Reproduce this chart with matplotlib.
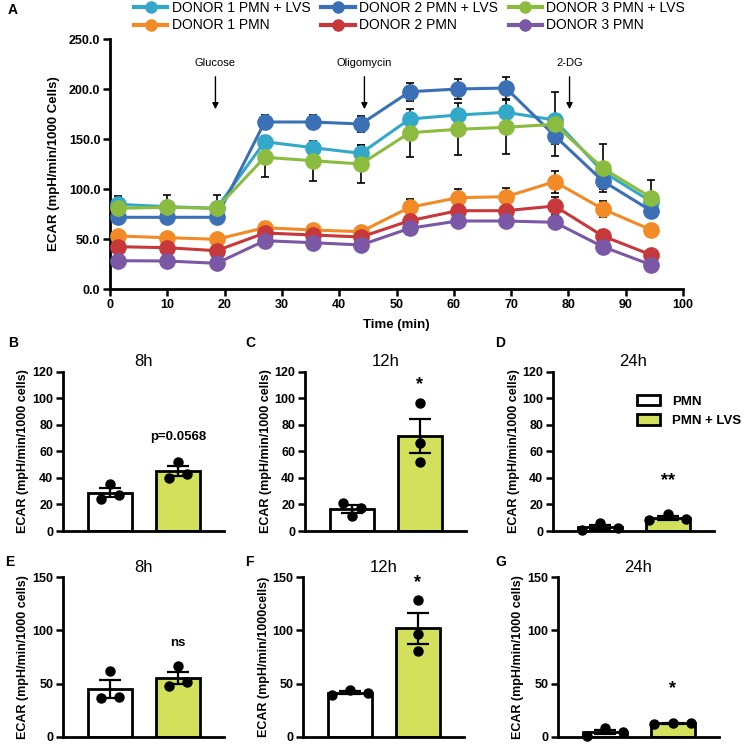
import numpy as np
import matplotlib.pyplot as plt
from matplotlib.ticker import FormatStrFormatter
from matplotlib.patches import Patch
from matplotlib.lines import Line2D

plt.rcParams['font.family'] = ['Liberation Sans', 'DejaVu Sans']
plt.rcParams['font.weight'] = 'bold'
plt.rcParams['axes.labelweight'] = 'bold'

# panel A: ECAR time course
# =========================
time = [1.4, 10, 18.6, 27, 35.4, 43.8, 52.3, 60.7, 69.1, 77.6, 86, 94.5]

d1_lvs = [84.7, 82.3, 80.7, 147.3, 141.3, 135.7, 170, 174, 176.7, 169, 117.3, 87.3]
d2_lvs = [71.7, 71.7, 71.7, 167, 167, 165, 197.3, 200, 201, 153.3, 108, 78]
d3_lvs = [80.7, 81.7, 80.7, 131.7, 128.3, 125, 156.3, 159.7, 161.7, 164.7, 120.7, 91.3]
d1_pmn = [53, 51.3, 49.7, 61.3, 59, 57.3, 81.7, 91.3, 92.3, 107.3, 80, 59]
d2_pmn = [42.3, 41.3, 38.3, 56, 54, 52, 68.3, 78.3, 78.3, 83, 53, 34]
d3_pmn = [28.3, 28, 25.7, 48.3, 46.3, 44, 60.7, 68, 68, 66.7, 42.3, 24]

d1_lvs_err = [8, 12, 13, 6, 6, 8, 5, 5, 6, 5, 6, 5]
d2_lvs_err = [4, 3, 3, 7, 7, 8, 9, 10, 11, 8, 8, 5]
d3_lvs_err = [5, 4, 5, 20, 20, 19, 24, 26, 27, 32, 24, 18]
d1_pmn_err = [4, 4, 4, 6, 5, 5, 8, 9, 9, 11, 8, 4]
d2_pmn_err = [3, 3, 3, 5, 5, 5, 6, 6, 6, 9, 6, 3]
d3_pmn_err = [2, 2, 2, 3, 3, 3, 4, 4, 4, 4, 4, 3]

injections = ['Glucose', 'Oligomycin', '2-DG']
injection_times = [18.4, 44.4, 80.2]

# panels B-G: bar charts (3 donors each)
# ======================================
bar_groups = ['PMN', 'PMN + LVS']

b_pmn, b_lvs = [24, 35.4, 27], [39.7, 52.2, 43]
c_pmn, c_lvs = [21.3, 11.3, 17], [96.2, 66, 52.2]
d_pmn, d_lvs = [0.5, 5.7, 2.2], [8.3, 12.8, 8.8]
e_pmn, e_lvs = [36.1, 61.5, 37.6], [48, 66.8, 51.2]
f_pmn, f_lvs = [39, 44, 41], [128.6, 96.3, 80.6]
g_pmn, g_lvs = [0.7, 7.9, 4.1], [12, 13.2, 12.6]

W, H = 746, 752
fig = plt.figure(figsize=(W / 100, H / 100), dpi=100)


def add_ax(x0, y0, x1, y1):
    return fig.add_axes([x0 / W, 1 - y1 / H, (x1 - x0) / W, (y1 - y0) / H])


def style(ax, fs):
    for s in ['top', 'right']:
        ax.spines[s].set_visible(False)
    for s in ['left', 'bottom']:
        ax.spines[s].set_linewidth(2)
    ax.tick_params(direction='out', width=1.8, length=5, labelsize=fs, pad=2)
    for lab in ax.get_xticklabels() + ax.get_yticklabels():
        lab.set_fontweight('bold')


# Fig. A
axA = add_ax(110, 39, 683, 289)
series = [
    (d1_lvs, d1_lvs_err, '#33a8c8', 'DONOR 1 PMN + LVS'),
    (d2_lvs, d2_lvs_err, '#3b70b7', 'DONOR 2 PMN + LVS'),
    (d3_lvs, d3_lvs_err, '#8cbc3f', 'DONOR 3 PMN + LVS'),
    (d1_pmn, d1_pmn_err, '#f28a25', 'DONOR 1 PMN'),
    (d2_pmn, d2_pmn_err, '#c7383b', 'DONOR 2 PMN'),
    (d3_pmn, d3_pmn_err, '#7b58a6', 'DONOR 3 PMN'),
]
handles = {}
for vals, err, col, lab in series:
    axA.errorbar(time, vals, yerr=err, fmt='none', ecolor='k', elinewidth=1.2,
                 capsize=3, capthick=1.2, zorder=2)
    ln, = axA.plot(time, vals, '-o', color=col, lw=2.2, ms=11, mec=col, zorder=3,
                   clip_on=False)
    handles[lab] = ln

for name, t in zip(injections, injection_times):
    axA.annotate('', xy=(t, 177), xytext=(t, 215),
                 arrowprops=dict(arrowstyle='-|>', color='k', lw=1, mutation_scale=9))
    axA.text(t, 226, name, ha='center', va='center', fontsize=8, fontweight='normal')

axA.set_xlim(0, 100)
axA.set_ylim(0, 250)
axA.set_xticks(np.arange(0, 101, 10))
axA.set_yticks(np.arange(0, 251, 50))
axA.yaxis.set_major_formatter(FormatStrFormatter('%.1f'))
axA.set_xlabel('Time (min)', fontsize=9.5, labelpad=6)
axA.set_ylabel('ECAR (mpH/min/1000 Cells)', fontsize=9.5, labelpad=6)
style(axA, 9)

order = ['DONOR 1 PMN + LVS', 'DONOR 1 PMN', 'DONOR 2 PMN + LVS', 'DONOR 2 PMN',
         'DONOR 3 PMN + LVS', 'DONOR 3 PMN']
leg_handles = [Line2D([], [], color=handles[k].get_color(), lw=3, marker='o', ms=8)
               for k in order]
fig.legend(leg_handles, order, loc='upper left', bbox_to_anchor=(134 / W, 1 - 1 / H),
           ncol=3, frameon=False, handlelength=2.4, handletextpad=0.3,
           columnspacing=0.8, labelspacing=0.25, borderpad=0, borderaxespad=0,
           prop={'weight': 'normal', 'size': 10})

fig.text(8 / W, 1 - 10 / H, 'A', fontsize=10, fontweight='bold', va='center')


# bar panels
def bar_panel(ax, pmn, lvs, ymax, yticks, title, ylabel, sig, sig_y, legend=False):
    colors = ['white', '#d2e05c']
    for i, pts in enumerate([pmn, lvs]):
        pts = np.array(pts)
        m = pts.mean()
        sem = pts.std(ddof=1) / np.sqrt(len(pts))
        ax.bar(i, m, width=0.65, color=colors[i], edgecolor='k', lw=2, zorder=1)
        ax.errorbar(i, m, yerr=sem, fmt='none', ecolor='k', elinewidth=1.6,
                    capsize=8, capthick=1.6, zorder=3)
        r = (pts.max() - pts.min()) / ymax
        spread = 0 if r > 0.25 else (0.13 if r > 0.06 else 0.27)
        ax.plot(i + np.array([-spread, 0, spread]), pts, 'o', color='k', ms=6.5,
                zorder=4, clip_on=False)
    fs = 13 if '*' in sig else 9.5
    ax.text(1, sig_y, sig, ha='center', va='center', fontsize=fs, fontweight='bold')
    ax.set_xlim(-0.69, 1.68)
    ax.set_ylim(0, ymax)
    ax.set_yticks(yticks)
    ax.set_xticks([])
    ax.set_ylabel(ylabel, fontsize=9, labelpad=2)
    ax.set_title(title, fontsize=12, fontweight='normal', pad=4)
    style(ax, 9)
    if legend:
        ph = [Patch(facecolor=c, edgecolor='k', lw=2) for c in colors]
        ax.legend(ph, bar_groups, loc='upper left', bbox_to_anchor=(0.45, 0.93),
                  frameon=False, handlelength=1.7, handleheight=0.9,
                  handletextpad=0.9, labelspacing=0.5,
                  prop={'weight': 'bold', 'size': 9.5})


lab = 'ECAR (mpH/min/1000 cells)'
t1, t2 = np.arange(0, 121, 20), np.arange(0, 151, 50)

axB = add_ax(63, 371.5, 224, 531)
bar_panel(axB, b_pmn, b_lvs, 120, t1, '8h', lab, 'p=0.0568', 71)
axC = add_ax(305, 371.5, 466, 531)
bar_panel(axC, c_pmn, c_lvs, 120, t1, '12h', lab, '*', 110)
axD = add_ax(553, 371.5, 714, 531)
bar_panel(axD, d_pmn, d_lvs, 120, t1, '24h', lab, '**', 38, legend=True)
axE = add_ax(63, 577.3, 224, 736.7)
bar_panel(axE, e_pmn, e_lvs, 150, t2, '8h', lab, 'ns', 88)
axF = add_ax(303, 577.3, 464, 736.7)
bar_panel(axF, f_pmn, f_lvs, 150, t2, '12h', 'ECAR (mpH/min/1000cells)', '*', 145)
axG = add_ax(558, 577.3, 719, 736.7)
bar_panel(axG, g_pmn, g_lvs, 150, t2, '24h', lab, '*', 45)

for letter, x, y in [('B', 8, 343), ('C', 245, 343), ('D', 495, 343),
                     ('E', 5, 562), ('F', 245, 562), ('G', 495, 562)]:
    fig.text(x / W, 1 - y / H, letter, fontsize=10, fontweight='bold', va='center')

fig.savefig('out.png', dpi=100)
